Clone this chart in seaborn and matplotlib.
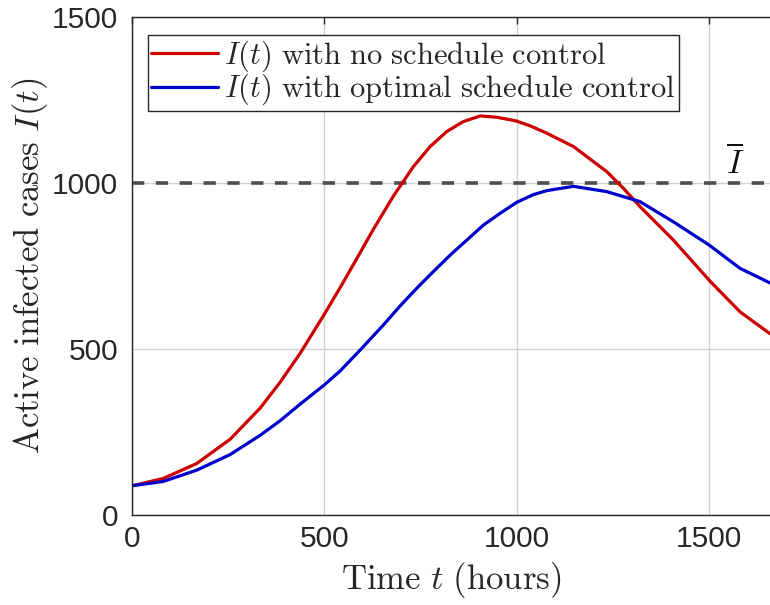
import numpy as np
import pandas as pd
import matplotlib
matplotlib.use("Agg")
import matplotlib.pyplot as plt
from matplotlib.lines import Line2D
import seaborn as sns

# ---- data ----
t_red = [0, 81, 168, 255, 333, 385, 437, 500, 541, 584, 627, 679, 731, 775, 818,
         861, 905, 948, 998, 1035, 1078, 1147, 1234, 1277, 1320, 1407, 1500, 1580,
         1658]
i_red = [88, 110, 155, 228, 322, 400, 487, 605, 685, 772, 860, 960, 1049, 1110, 1155,
         1185, 1202, 1198, 1187, 1172, 1150, 1110, 1034, 984, 929, 828, 707, 612,
         546]
t_blue = [0, 81, 168, 255, 333, 385, 437, 500, 541, 593, 653, 697, 740, 783, 827,
          870, 913, 957, 1000, 1043, 1078, 1147, 1234, 1320, 1407, 1500, 1580, 1658]
i_blue = [88, 101, 135, 182, 240, 284, 334, 392, 434, 497, 572, 630, 683, 733, 783,
          828, 873, 909, 942, 965, 977, 990, 974, 944, 883, 813, 743, 699]
threshold = 1000
label_red = r"$I(t)\ \mathrm{with\ no\ schedule\ control}$"
label_blue = r"$I(t)\ \mathrm{with\ optimal\ schedule\ control}$"
xticks = [0, 500, 1000, 1500]
yticks = [0, 500, 1000, 1500]

sns.set_theme(style="white")
plt.rcParams["font.family"] = ["Liberation Sans", "DejaVu Sans"]
plt.rcParams["mathtext.fontset"] = "cm"

df = pd.concat([
    pd.DataFrame({"t": t_red, "I": i_red, "series": label_red}),
    pd.DataFrame({"t": t_blue, "I": i_blue, "series": label_blue}),
])

fig = plt.figure(figsize=(7.7, 6.05), dpi=100)
ax = fig.add_axes([132 / 770, 90 / 605, 638 / 770, 498 / 605])

ax.grid(True, color="#d2d2d2", linewidth=1.0, zorder=0)
ax.set_axisbelow(True)

sns.lineplot(data=df, x="t", y="I", hue="series",
             palette={label_red: "#cc0000", label_blue: "#0000cc"},
             linewidth=2.3, ax=ax, legend=False, sort=True)

ax.axhline(threshold, color="#4d4d4d", linewidth=2.6, dashes=(3.4, 3.2), zorder=1)

ax.set_xlim(0, 1658)
ax.set_ylim(0, 1500)
ax.set_xticks(xticks)
ax.set_yticks(yticks)
ax.tick_params(axis="both", direction="in", length=5, width=1.0, colors="#262626",
               labelsize=21.5, top=True, right=False)
ax.tick_params(axis="x", pad=7)
ax.tick_params(axis="y", pad=10)
for s in ["left", "bottom", "top"]:
    ax.spines[s].set_color("#262626")
    ax.spines[s].set_linewidth(1.0)
ax.spines["right"].set_visible(False)

ax.set_xlabel(r"$\mathrm{Time}\ t\ \mathrm{(hours)}$", fontsize=25, color="#262626", labelpad=5)
ax.set_ylabel(r"$\mathrm{Active\ infected\ cases}\ I(t)$", fontsize=25, color="#262626", labelpad=1)

ax.text(1567, 1062, r"$\overline{I}$", fontsize=24, ha="center", va="center", color="#111111")

handles = [Line2D([], [], color="#cc0000", linewidth=2.3),
           Line2D([], [], color="#0000cc", linewidth=2.3)]
leg = ax.legend(handles, [label_red, label_blue], loc="upper left",
                bbox_to_anchor=(16 / 638, 1 - 18 / 498), borderaxespad=0,
                fontsize=22, handlelength=2.2, handletextpad=0.2,
                labelspacing=-0.05, borderpad=0.1, fancybox=False,
                framealpha=1, edgecolor="#262626")
leg.get_frame().set_linewidth(1.0)

fig.savefig("out.png", dpi=100)
